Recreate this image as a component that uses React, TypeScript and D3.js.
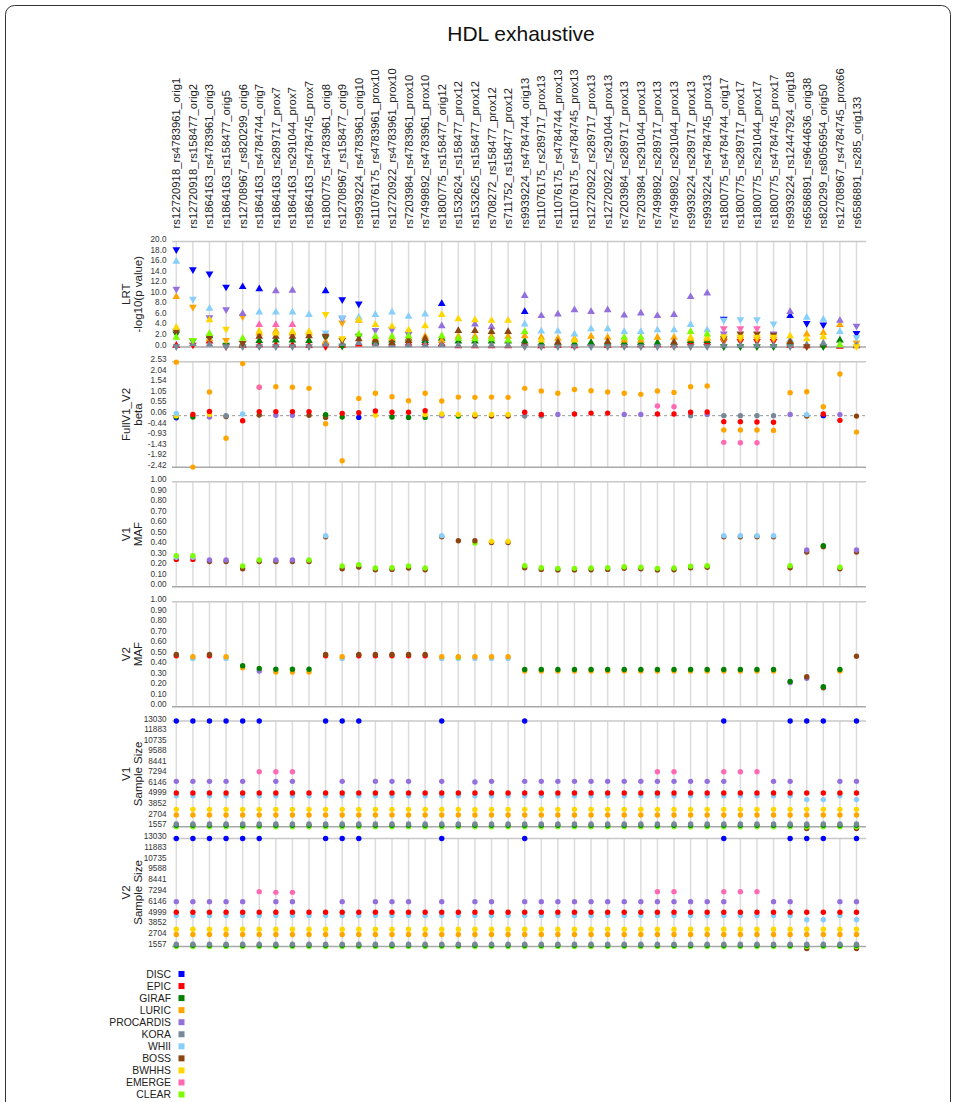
import * as d3 from 'd3'

const _ = null
type V = number | null

const cohorts = ['DISC', 'EPIC', 'GIRAF', 'LURIC', 'PROCARDIS', 'KORA', 'WHII', 'BOSS', 'BWHHS', 'EMERGE', 'CLEAR']
const cohortColors = ['#0000ff', '#ff0000', '#008000', '#ffa500', '#9370db', '#778899', '#87cefa', '#8b4513', '#ffd700', '#ff69b4', '#7cfc00']

const snpPairs = [
  'rs12720918_rs4783961_orig1', 'rs12720918_rs158477_orig2', 'rs1864163_rs4783961_orig3', 'rs1864163_rs158477_orig5',
  'rs12708967_rs820299_orig6', 'rs1864163_rs4784744_orig7', 'rs1864163_rs289717_prox7', 'rs1864163_rs291044_prox7',
  'rs1864163_rs4784745_prox7', 'rs1800775_rs4783961_orig8', 'rs12708967_rs158477_orig9', 'rs9939224_rs4783961_orig10',
  'rs11076175_rs4783961_prox10', 'rs12720922_rs4783961_prox10', 'rs7203984_rs4783961_prox10', 'rs7499892_rs4783961_prox10',
  'rs1800775_rs158477_orig12', 'rs1532624_rs158477_prox12', 'rs1532625_rs158477_prox12', 'rs708272_rs158477_prox12',
  'rs711752_rs158477_prox12', 'rs9939224_rs4784744_orig13', 'rs11076175_rs289717_prox13', 'rs11076175_rs4784744_prox13',
  'rs11076175_rs4784745_prox13', 'rs12720922_rs289717_prox13', 'rs12720922_rs291044_prox13', 'rs7203984_rs289717_prox13',
  'rs7203984_rs291044_prox13', 'rs7499892_rs289717_prox13', 'rs7499892_rs291044_prox13', 'rs9939224_rs289717_prox13',
  'rs9939224_rs4784745_prox13', 'rs1800775_rs4784744_orig17', 'rs1800775_rs289717_prox17', 'rs1800775_rs291044_prox17',
  'rs1800775_rs4784745_prox17', 'rs9939224_rs12447924_orig18', 'rs6586891_rs9644636_orig38', 'rs820299_rs8056954_orig50',
  'rs12708967_rs4784745_prox66', 'rs6586891_rs285_orig133',
]

// tick labels
const lrtTicks = [0, 2, 4, 6, 8, 10, 12, 14, 16, 18, 20]
const betaTicks = [2.53, 2.04, 1.54, 1.05, 0.55, 0.06, -0.44, -0.93, -1.43, -1.92, -2.42]
const mafTicks = [0, 0.1, 0.2, 0.3, 0.4, 0.5, 0.6, 0.7, 0.8, 0.9, 1]
const nTicks = [13030, 11883, 10735, 9588, 8441, 7294, 6146, 4999, 3852, 2704, 1557]

// LRT -log10(p), sign = effect direction (up / down triangle)
const lrtDISC: V[] = [-18.5, -14.7, -13.9, -11.4, 11.4, 11.0, _, _, _, 10.6,
  -9.0, -8.2, _, _, _, _, 8.2, _, _, _,
  _, 6.7, _, _, _, _, _, _, _, _,
  _, _, _, -5.3, _, _, _, 5.9, -4.5, -4.2,
  _, -2.6]
const lrtEPIC: V[] = [0.3, -0.4, 1.1, -0.1, 0.3, 0.4, 0.4, 0.4, 0.3, -0.1,
  0.3, 0.5, 0.8, 0.5, 0.7, 0.8, 0.6, 0.2, 0.2, 0.2,
  0.2, 0.6, 0.2, 0.3, 0.2, 0.6, 0.3, 0.4, 0.4, 0.4,
  0.4, 0.8, 0.8, -1.1, -1.1, -1.1, -1.1, 0.3, 0.2, 0.4,
  0.1, 0.2]
const lrtGIRAF: V[] = [-2.5, -1.2, 2.1, -0.4, 0.5, 1.2, 1.3, 1.3, 1.2, -1.8,
  -0.2, -2.1, 1.0, 1.3, 1.6, 1.2, 1.6, 1.1, 1.1, 1.1,
  1.1, 1.1, 0.7, 0.7, 0.7, 0.8, 0.7, 0.8, 0.8, 0.8,
  0.8, 1.2, 1.2, -0.1, -0.1, -0.1, -0.1, 0.7, _, -0.1,
  1.3, _]
const lrtLURIC: V[] = [9.5, -7.6, 1.5, -1.3, -5.8, 2.6, 3.0, 2.6, 2.6, 1.0,
  -4.6, 5.0, 1.5, 1.6, 1.4, 2.0, 1.2, 2.0, 2.0, 2.0,
  2.0, 2.1, 1.8, 1.6, 1.5, 2.0, 1.8, 1.3, 1.3, 1.8,
  1.8, 1.5, 1.5, -1.3, -1.5, -1.5, -1.5, 1.2, 2.4, 2.7,
  4.2, -0.8]
const lrtPROCARDIS: V[] = [-11.0, _, -5.6, -7.1, 6.3, _, 10.6, 10.7, _, _,
  -5.4, _, -3.2, -3.3, -2.4, _, 4.0, _, 4.3, 3.8,
  _, 9.7, 5.9, 6.2, 7.0, 6.7, 7.0, 6.0, 6.4, 5.9,
  6.1, 9.5, 10.2, -2.5, _, _, -2.5, 6.7, _, _,
  5.0, -4.0]
const lrtKORA: V[] = [-0.1, 0.6, 0.5, -0.1, -0.1, -0.1, -0.1, -0.1, -0.1, 0.5,
  0.6, 0.8, 0.5, 0.4, 0.4, 0.4, 0.4, 0.3, 0.3, 0.3,
  0.3, -0.1, -0.1, -0.1, -0.1, -0.1, -0.1, -0.1, -0.1, -0.1,
  -0.1, -0.1, -0.1, 0.3, 0.3, 0.3, 0.3, -0.1, 0.4, 0.7,
  0.3, 0.3]
const lrtWHII: V[] = [16.2, -9.1, 7.3, _, _, 6.6, 6.6, 6.6, 6.1, -2.7,
  -5.6, 5.6, 6.1, 6.6, 5.8, 6.2, _, _, _, _,
  _, 4.3, 3.0, 3.0, 2.4, 3.4, 3.4, 2.9, 2.9, 3.2,
  3.2, 4.2, 3.2, -5.1, -5.2, -5.2, -4.4, 1.4, 5.6, 5.2,
  2.9, -1.8]
const lrtBOSS: V[] = [-2.9, _, -1.8, _, -0.7, 2.0, 2.0, 2.0, 2.1, -2.1,
  -1.3, 1.5, 1.3, 0.8, 1.2, 1.6, _, 3.1, 3.1, 2.9,
  2.9, _, _, 0.9, _, _, 1.0, _, _, _,
  0.9, _, _, -1.6, -2.5, -2.5, -2.3, 1.0, -0.1, _,
  _, _]
const lrtBWHHS: V[] = [3.7, _, 5.1, -3.4, _, 3.0, 2.6, 2.9, 2.9, -6.2,
  -1.6, 5.1, 4.2, 3.9, 3.2, 4.0, 6.1, 5.3, 5.1, 5.0,
  5.0, _, 1.3, _, 1.3, _, _, _, _, _,
  _, 1.8, 1.8, -2.0, -1.9, -1.9, -1.9, 2.1, 1.5, 1.9,
  _, -0.1]
const lrtEMERGE: V[] = [_, _, _, _, _, 4.2, 4.2, 4.2, _, _,
  _, _, _, _, _, _, _, _, _, _,
  _, _, _, _, _, _, _, _, _, _,
  _, _, _, -3.5, -3.5, -3.5, _, _, _, _,
  _, _]
const lrtCLEAR: V[] = [1.8, -1.3, 2.5, _, 1.6, _, _, _, _, _,
  _, 2.4, 2.0, 2.0, 2.1, _, 2.1, 1.6, 1.5, 1.5,
  1.3, 2.9, _, _, _, _, _, 1.8, 1.8, _,
  _, 2.9, 2.4, _, _, _, _, _, _, _,
  0.4, _]

// FullV1_V2 beta
const betaDISC: V[] = [-0.10, _, _, _, _, _, _, _, _, _,
  _, -0.08, _, _, _, _, _, _, _, _,
  _, _, _, _, _, _, _, _, _, _,
  _, _, _, _, _, _, _, _, _, 0.0,
  _, _]
const betaEPIC: V[] = [_, 0.06, 0.20, _, -0.24, 0.19, 0.19, 0.19, 0.19, _,
  0.11, 0.14, 0.22, 0.16, 0.16, 0.23, _, _, _, _,
  _, 0.16, 0.06, _, 0.08, 0.12, 0.12, _, _, 0.08,
  0.08, 0.16, 0.17, -0.28, -0.28, -0.30, -0.31, _, _, 0.08,
  -0.22, _]
const betaGIRAF: V[] = [-0.05, -0.06, _, _, _, _, _, _, _, 0.05,
  -0.06, _, _, -0.06, -0.08, -0.08, _, -0.02, _, _]
const betaLURIC: V[] = [2.51, -2.41, 1.11, -1.06, 2.44, 1.33, 1.36, 1.33, 1.28, -0.38,
  -2.11, 0.81, 1.05, 0.89, 0.70, 1.05, 0.69, 0.87, 0.86, 0.87,
  0.86, 1.28, 1.16, 1.05, 1.23, 1.17, 1.11, 1.05, 1.00, 1.16,
  1.09, 1.36, 1.39, -0.67, -0.67, -0.67, -0.69, 1.08, 1.12, 0.42,
  1.95, -0.77]
const betaPROCARDIS: V[] = [_, _, -0.06, _, _, _, 0.02, 0.02, _, _,
  _, _, _, _, _, _, 0.0, _, _, _,
  _, _, _, 0.06, _, _, _, 0.06, 0.06, _,
  _, _, 0.06, _, _, _, _, 0.06, _, _,
  0.05, _]
const betaKORA: V[] = [_, _, _, 0.0, _, _, _, _, _, _,
  _, _, _, _, _, _, _, _, _, _,
  _, -0.02, -0.02, _, _, _, _, _, _, _,
  _, 0.0, _, 0.0, 0.0, 0.0, 0.0, _, _, _,
  _, _]
const betaWHII: V[] = [0.11, _, _, _, 0.08, _, _, _, _, _,
  _, _, _, _, _, _, _, _, _, _,
  _, _, _, _, _, _, _, _, _, _,
  _, _, _, _, _, _, _, _, 0.05, _,
  _, _]
const betaBOSS: V[] = [_, _, _, -0.04, _, 0.03, _, _, 0.02, -0.08,
  _, _, _, _, _, _, _, _, -0.02, -0.02,
  -0.02, _, _, _, _, _, _, _, _, _,
  _, _, _, _, _, _, _, _, -0.02, _,
  _, -0.02]
const betaBWHHS: V[] = [0.0, _, 0.06, _, _, _, _, _, _, _,
  _, _, 0.02, _, _, 0.06, 0.08, 0.06, 0.06, 0.06,
  0.06]
const betaEMERGE: V[] = [_, _, _, _, _, 1.33, _, _, _, _,
  _, _, _, _, _, _, _, _, _, _,
  _, _, _, _, _, _, _, _, _, 0.45,
  0.42, _, _, -1.25, -1.27, -1.27, _, _, _, _,
  _, _]
const betaCLEAR: V[] = []

// V1 MAF
const maf1DISC: V[] = []
const maf1EPIC: V[] = [0.26, 0.26]
const maf1GIRAF: V[] = [_, _, _, _, _, _, _, _, _, _,
  _, _, _, _, _, _, _, _, _, _,
  _, _, _, _, _, _, _, _, _, _,
  _, _, _, _, _, _, _, _, _, 0.39]
const maf1LURIC: V[] = []
const maf1PROCARDIS: V[] = [_, _, 0.254, 0.254, _, _, 0.254, 0.254, _, _,
  _, _, _, _, _, _, _, _, _, _,
  _, _, _, _, _, _, _, _, _, _,
  _, _, _, _, _, _, _, _, 0.35, _,
  _, 0.35]
const maf1KORA: V[] = []
const maf1WHII: V[] = [0.28, 0.28, _, _, _, _, _, _, _, 0.486,
  _, _, _, _, _, _, 0.486, _, _, _,
  _, _, _, _, _, _, _, _, _, _,
  _, _, _, 0.486, 0.486, 0.486, 0.486]
const maf1BOSS: V[] = [_, _, 0.24, 0.24, 0.171, 0.24, 0.24, 0.24, 0.24, 0.476,
  0.171, 0.187, 0.162, 0.165, 0.178, 0.162, 0.476, 0.438, 0.438, 0.42,
  0.42, 0.18, 0.165, 0.16, 0.16, 0.162, 0.165, 0.175, 0.17, 0.16,
  0.162, 0.18, 0.185, 0.476, 0.476, 0.476, 0.476, 0.18, 0.33, 0.38,
  0.17, 0.33]
const maf1BWHHS: V[] = [_, _, _, _, _, _, _, _, _, _,
  _, _, _, _, _, _, _, _, _, 0.432,
  0.432]
const maf1EMERGE: V[] = []
const maf1CLEAR: V[] = [0.295, 0.295, _, _, 0.197, 0.254, _, _, 0.254, _,
  0.197, 0.21, 0.178, 0.181, 0.197, 0.178, _, _, 0.416, _,
  _, 0.2, 0.181, 0.175, 0.175, 0.178, 0.181, 0.19, 0.185, 0.175,
  0.178, 0.195, 0.2, _, _, _, _, 0.2, _, _,
  0.185, _]

// V2 MAF
const maf2DISC: V[] = []
const maf2EPIC: V[] = [0.485, _, 0.485, _, _, _, _, _, _, 0.485,
  _, 0.485, 0.485, 0.485, 0.485, 0.485]
const maf2GIRAF: V[] = [_, _, _, _, 0.39, 0.365, 0.356, 0.356, 0.356, _,
  _, _, _, _, _, _, _, _, _, _,
  _, 0.355, 0.355, 0.355, 0.355, 0.355, 0.355, 0.355, 0.355, 0.355,
  0.355, 0.355, 0.355, 0.355, 0.355, 0.355, 0.355, 0.24, _, 0.19,
  0.355, _]
const maf2LURIC: V[] = [_, 0.476, _, 0.476, 0.37, _, 0.33, 0.33, 0.33, _,
  0.476, _, _, _, _, _, 0.476, 0.476, 0.476, 0.476,
  0.476, 0.34, 0.34, 0.34, 0.34, 0.34, 0.34, 0.34, 0.34, 0.34,
  0.34, 0.34, 0.34, 0.34, 0.34, 0.34, 0.34, _, _, _,
  0.34, _]
const maf2PROCARDIS: V[] = [_, _, _, _, _, 0.34, _, _, _, _,
  _, _, _, _, _, _, _, _, _, _,
  _, _, _, _, _, _, _, _, _, _,
  _, _, _, _, _, _, _, 0.23, 0.27]
const maf2KORA: V[] = []
const maf2WHII: V[] = [_, 0.46, _, 0.46, _, _, _, _, _, _,
  0.46, _, _, _, _, _, 0.46, 0.46, 0.46, 0.46,
  0.46]
const maf2BOSS: V[] = [0.498, _, 0.498, _, _, _, _, _, _, 0.498,
  _, 0.498, 0.498, 0.498, 0.498, 0.498, _, _, _, _,
  _, _, _, _, _, _, _, _, _, _,
  _, _, _, _, _, _, _, _, 0.285, 0.18,
  _, 0.48]
const maf2BWHHS: V[] = []
const maf2EMERGE: V[] = []
const maf2CLEAR: V[] = [_, _, _, _, _, _, _, _, _, _,
  _, _, _, _, _, _, _, 0.47]

// V1 sample size
const n1DISC: V[] = [13030, 13030, 13030, 13030, 13030, 13030, _, _, _, 13030,
  13030, 13030, _, _, _, _, 13030, _, _, _,
  _, 13030, _, _, _, _, _, _, _, _,
  _, _, _, 13030, _, _, _, 13030, 13030, 13030,
  _, 13030]
const n1EPIC: V[] = [5212, 5212, 5212, 5212, 5212, 5212, 5212, 5212, 5212, 5212,
  5212, 5212, 5212, 5212, 5212, 5212, 5212, 5212, 5212, 5212,
  5212, 5212, 5212, 5212, 5212, 5212, 5212, 5212, 5212, 5212,
  5212, 5212, 5212, 5212, 5212, 5212, 5212, 5212, 5212, 5212,
  5212, 5212]
const n1GIRAF: V[] = [1702, 1702, 1702, 1702, 1702, 1702, 1702, 1702, 1702, 1702,
  1702, 1702, 1702, 1702, 1702, 1702, 1702, 1702, 1702, 1702,
  1702, 1702, 1702, 1702, 1702, 1702, 1702, 1702, 1702, 1702,
  1702, 1702, 1702, 1702, 1702, 1702, 1702, 1702, 1702, 1702,
  1702, 1702]
const n1LURIC: V[] = [2824, 2824, 2824, 2824, 2824, 2824, 2824, 2824, 2824, 2824,
  2824, 2824, 2824, 2824, 2824, 2824, 2824, 2824, 2824, 2824,
  2824, 2824, 2824, 2824, 2824, 2824, 2824, 2824, 2824, 2824,
  2824, 2824, 2824, 2824, 2824, 2824, 2824, 2824, 2824, 2824,
  2824, 2824]
const n1PROCARDIS: V[] = [6479, 6479, 6479, 6479, 6479, _, 6479, 6479, _, _,
  6479, _, 6479, 6479, 6479, _, 6479, _, 6410, 6479,
  _, 6479, 6479, 6479, 6479, 6479, 6479, 6479, 6479, 6479,
  6479, 6479, 6479, 6479, _, _, 6479, 6479, _, _,
  6479, 6479]
const n1KORA: V[] = [1847, 1847, 1847, 1847, 1847, 1847, 1847, 1847, 1847, 1847,
  1847, 1847, 1847, 1847, 1847, 1847, 1847, 1847, 1847, 1847,
  1847, 1847, 1847, 1847, 1847, 1847, 1847, 1847, 1847, 1847,
  1847, 1847, 1847, 1847, 1847, 1847, 1847, 1847, 1847, 1847,
  1847, 1847]
const n1WHII: V[] = [4923, 4923, 4923, 4923, 4923, 4923, 4923, 4923, 4923, 4923,
  4923, 4923, 4923, 4923, 4923, 4923, 4923, 4923, 4923, 4923,
  4923, 4923, 4923, 4923, 4923, 4923, 4923, 4923, 4923, 4923,
  4923, 4923, 4923, 4923, 4923, 4923, 4923, 4923, 4500, 4500,
  4923, 4500]
const n1BOSS: V[] = [_, _, _, _, _, _, _, _, _, _,
  _, _, _, _, _, _, _, _, _, _,
  _, _, _, _, _, _, _, _, _, _,
  _, _, _, _, _, _, _, _, 1350, _,
  _, 1350]
const n1BWHHS: V[] = [3439, 3439, 3439, 3439, 3439, 3439, 3439, 3439, 3439, 3439,
  3439, 3439, 3439, 3439, 3439, 3439, 3439, 3439, 3400, 3439,
  3439, 3439, 3439, 3439, 3439, 3439, 3439, 3439, 3439, 3439,
  3439, 3439, 3439, 3439, 3439, 3439, 3439, 3439, 3439, 3439,
  3439, 3439]
const n1EMERGE: V[] = [_, _, _, _, _, 7529, 7529, 7529, _, _,
  _, _, _, _, _, _, _, _, _, _,
  _, _, _, _, _, _, _, _, _, 7529,
  7529, _, _, 7529, 7529, 7529]
const n1CLEAR: V[] = [1557, 1557, 1557, 1557, 1557, 1557, 1557, 1557, 1557, 1557,
  1557, 1557, 1557, 1557, 1557, 1557, 1557, 1557, 1557, 1557,
  1557, 1557, 1557, 1557, 1557, 1557, 1557, 1557, 1557, 1557,
  1557, 1557, 1557, 1557, 1557, 1557, 1557, 1557, 1557, 1557,
  1557, 1557]

// V2 sample size
const n2DISC: V[] = [13030, 13030, 13030, 13030, 13030, 13030, _, _, _, 13030,
  13030, 13030, _, _, _, _, 13030, _, _, _,
  _, 13030, _, _, _, _, _, _, _, _,
  _, _, _, 13030, _, _, _, 13030, 13030, 13030,
  _, 13030]
const n2EPIC: V[] = [5193, 5193, 5193, 5193, 5193, 5193, 5193, 5193, 5193, 5193,
  5193, 5193, 5193, 5193, 5193, 5193, 5193, 5193, 5193, 5193,
  5193, 5193, 5193, 5193, 5193, 5193, 5193, 5193, 5193, 5193,
  5193, 5193, 5193, 5193, 5193, 5193, 5193, 5193, 5193, 5193,
  5193, 5193]
const n2GIRAF: V[] = [1680, 1680, 1680, 1680, 1680, 1680, 1680, 1680, 1680, 1680,
  1680, 1680, 1680, 1680, 1680, 1680, 1680, 1680, 1680, 1680,
  1680, 1680, 1680, 1680, 1680, 1680, 1680, 1680, 1680, 1680,
  1680, 1680, 1680, 1680, 1680, 1680, 1680, 1680, 1680, 1680,
  1680, 1680]
const n2LURIC: V[] = [2828, 2828, 2828, 2828, 2828, 2828, 2828, 2828, 2828, 2828,
  2828, 2828, 2828, 2828, 2828, 2828, 2828, 2828, 2828, 2828,
  2828, 2828, 2828, 2828, 2828, 2828, 2828, 2828, 2828, 2828,
  2828, 2828, 2828, 2828, 2828, 2828, 2828, 2828, 2828, 2828,
  2828, 2828]
const n2PROCARDIS: V[] = [6323, 6323, 6323, 6323, 6323, _, 6323, 6323, _, _,
  6323, _, 6323, 6323, 6323, _, 6323, _, 6323, 6323,
  _, 6323, 6323, 6323, 6323, 6323, 6323, 6323, 6323, 6323,
  6323, 6323, 6323, 6323, _, _, 6323, 6323, _, _,
  6323, 6323]
const n2KORA: V[] = [1804, 1804, 1804, 1804, 1804, 1804, 1804, 1804, 1804, 1804,
  1804, 1804, 1804, 1804, 1804, 1804, 1804, 1804, 1804, 1804,
  1804, 1804, 1804, 1804, 1804, 1804, 1804, 1804, 1804, 1804,
  1804, 1804, 1804, 1804, 1804, 1804, 1804, 1804, 1804, 1804,
  1804, 1804]
const n2WHII: V[] = [4840, 4840, 4840, 4840, 4840, 4840, 4840, 4840, 4840, 4840,
  4840, 4840, 4840, 4840, 4840, 4840, 4840, 4840, 4840, 4840,
  4840, 4840, 4840, 4840, 4840, 4840, 4840, 4840, 4840, 4840,
  4840, 4840, 4840, 4840, 4840, 4840, 4840, 4840, 4400, 4400,
  4840, 4400]
const n2BOSS: V[] = [_, _, _, _, _, _, _, _, _, _,
  _, _, _, _, _, _, _, _, _, _,
  _, _, _, _, _, _, _, _, _, _,
  _, _, _, _, _, _, _, _, 1350, _,
  _, 1350]
const n2BWHHS: V[] = [3393, 3393, 3393, 3393, 3393, 3393, 3393, 3393, 3393, 3393,
  3393, 3393, 3393, 3393, 3393, 3393, 3393, 3393, 3393, 3393,
  3393, 3393, 3393, 3393, 3393, 3393, 3393, 3393, 3393, 3393,
  3393, 3393, 3393, 3393, 3393, 3393, 3393, 3393, 3393, 3393,
  3393, 3393]
const n2EMERGE: V[] = [_, _, _, _, _, 7382, 7310, 7310, _, _,
  _, _, _, _, _, _, _, _, _, _,
  _, _, _, _, _, _, _, _, _, 7382,
  7382, _, _, 7382, 7382, 7382]
const n2CLEAR: V[] = [1557, 1557, 1557, 1557, 1557, 1557, 1557, 1557, 1557, 1557,
  1557, 1557, 1557, 1557, 1557, 1557, 1557, 1557, 1557, 1557,
  1557, 1557, 1557, 1557, 1557, 1557, 1557, 1557, 1557, 1557,
  1557, 1557, 1557, 1557, 1557, 1557, 1557, 1557, 1557, 1557,
  1557, 1557]

const lrt = [lrtDISC, lrtEPIC, lrtGIRAF, lrtLURIC, lrtPROCARDIS, lrtKORA, lrtWHII, lrtBOSS, lrtBWHHS, lrtEMERGE, lrtCLEAR]
const beta = [betaDISC, betaEPIC, betaGIRAF, betaLURIC, betaPROCARDIS, betaKORA, betaWHII, betaBOSS, betaBWHHS, betaEMERGE, betaCLEAR]
const maf1 = [maf1DISC, maf1EPIC, maf1GIRAF, maf1LURIC, maf1PROCARDIS, maf1KORA, maf1WHII, maf1BOSS, maf1BWHHS, maf1EMERGE, maf1CLEAR]
const maf2 = [maf2DISC, maf2EPIC, maf2GIRAF, maf2LURIC, maf2PROCARDIS, maf2KORA, maf2WHII, maf2BOSS, maf2BWHHS, maf2EMERGE, maf2CLEAR]
const n1 = [n1DISC, n1EPIC, n1GIRAF, n1LURIC, n1PROCARDIS, n1KORA, n1WHII, n1BOSS, n1BWHHS, n1EMERGE, n1CLEAR]
const n2 = [n2DISC, n2EPIC, n2GIRAF, n2LURIC, n2PROCARDIS, n2KORA, n2WHII, n2BOSS, n2BWHHS, n2EMERGE, n2CLEAR]

const FONT = '"Liberation Sans", Arial, Helvetica, sans-serif'
const W = 956, H = 1102
const gridX0 = 172, gridX1 = 866

interface Panel {
  title: [string, string]
  top: number
  bottom: number
  domain: [number, number]
  ticks: number[]
  fmt: (d: number) => string
  data: V[][]
  tri?: boolean
  zero?: boolean
}

const panels: Panel[] = [
  { title: ['LRT', '-log10(p value)'], top: 241.5, bottom: 347, domain: [0, 20], ticks: lrtTicks, fmt: d => d.toFixed(1), data: lrt, tri: true },
  { title: ['FullV1_V2', 'beta'], top: 361.7, bottom: 467.3, domain: [-2.42, 2.53], ticks: betaTicks, fmt: d => d.toFixed(2), data: beta, zero: true },
  { title: ['V1', 'MAF'], top: 481.7, bottom: 586.7, domain: [0, 1], ticks: mafTicks, fmt: d => d.toFixed(2), data: maf1 },
  { title: ['V2', 'MAF'], top: 601.7, bottom: 706.7, domain: [0, 1], ticks: mafTicks, fmt: d => d.toFixed(2), data: maf2 },
  { title: ['V1', 'Sample Size'], top: 721, bottom: 826.7, domain: [1557, 13030], ticks: nTicks, fmt: d => String(d), data: n1 },
  { title: ['V2', 'Sample Size'], top: 838.5, bottom: 946.5, domain: [1557, 13030], ticks: nTicks, fmt: d => String(d), data: n2 },
]

const x = d3.scalePoint<string>().domain(snpPairs).range([176.3, 856.5])
const triPath = d3.symbol(d3.symbolTriangle, 26)()!

function PanelView({ p }: { p: Panel }) {
  const y = d3.scaleLinear().domain(p.domain).range([p.bottom, p.top])
  const pts: { i: number; c: number; v: number }[] = []
  p.data.forEach((arr, c) => {
    snpPairs.forEach((_s, i) => {
      const v = arr[i]
      if (v !== null && v !== undefined) pts.push({ i, c, v })
    })
  })
  if (!p.tri) pts.sort((a, b) => a.v - b.v)
  const cy = (p.top + p.bottom) / 2
  return (
    <g>
      {snpPairs.map(s => (
        <line key={s} x1={x(s)} x2={x(s)} y1={p.top} y2={p.bottom} stroke="#dcdcdc" strokeWidth={1.5} />
      ))}
      <line x1={gridX0} x2={gridX1} y1={p.top} y2={p.top} stroke="#c8c8c8" strokeWidth={1.6} />
      <line x1={gridX0} x2={gridX1} y1={p.bottom} y2={p.bottom} stroke="#a8a8a8" strokeWidth={1.6} />
      {p.zero && (
        <line x1={gridX0} x2={gridX1} y1={y(0)} y2={y(0)} stroke="#999" strokeWidth={1} strokeDasharray="3,3" />
      )}
      {p.ticks.map(t => (
        <text key={t} x={166.5} y={y(t) + 0.5} textAnchor="end" fontSize={8.2} fill="#333">{p.fmt(t)}</text>
      ))}
      <text transform={`translate(129.5,${cy}) rotate(-90)`} textAnchor="middle" fontSize={11.5} fill="#222">{p.title[0]}</text>
      <text transform={`translate(141.5,${cy}) rotate(-90)`} textAnchor="middle" fontSize={11.5} fill="#222">{p.title[1]}</text>
      {pts.map((d, k) =>
        p.tri ? (
          <path key={k} d={triPath} fill={cohortColors[d.c]}
            transform={`translate(${x(snpPairs[d.i])},${y(Math.abs(d.v))})${d.v < 0 ? ' rotate(180)' : ''}`} />
        ) : (
          <circle key={k} cx={x(snpPairs[d.i])} cy={y(d.v)} r={2.7} fill={cohortColors[d.c]} />
        )
      )}
    </g>
  )
}

export default function App() {
  return (
    <svg width={W} height={H} style={{ position: 'absolute', left: 0, top: 0, display: 'block', background: '#fff' }} fontFamily={FONT}>
      <rect x={5.5} y={5.5} width={945} height={1130} rx={9} fill="none" stroke="#333" strokeWidth={1} />
      <text x={521} y={41} textAnchor="middle" fontSize={21} fill="#111">HDL exhaustive</text>
      {snpPairs.map(s => (
        <text key={s} transform={`translate(${(x(s) ?? 0) + 4},228.5) rotate(-90)`} fontSize={11.3} fill="#222">{s}</text>
      ))}
      {panels.map((p, k) => <PanelView key={k} p={p} />)}
      {cohorts.map((c, k) => (
        <g key={c} transform={`translate(0,${974 + k * 12.05})`}>
          <text x={171} y={3.7} textAnchor="end" fontSize={10.4} fill="#222">{c}</text>
          <rect x={178.5} y={-3} width={6} height={6} fill={cohortColors[k]} />
        </g>
      ))}
    </svg>
  )
}
